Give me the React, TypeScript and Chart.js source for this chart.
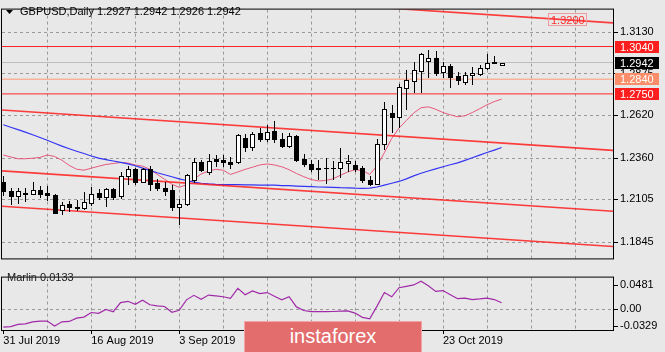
import React, { useEffect, useRef } from "react";
import { Chart, registerables } from "chart.js";

Chart.register(...registerables);

// ---------------- data ----------------
const symbolTitle = "GBPUSD,Daily";
const lastQuote = ["1.2927", "1.2942", "1.2926", "1.2942"];

const dateLabels = ["31 Jul 2019", "16 Aug 2019", "3 Sep 2019", "19 Sep 2019", "7 Oct 2019", "23 Oct 2019"];
const dateLabelBars = [0, 12, 24, 36, 48, 60];

const opens = [
  1.2211, 1.2157, 1.2124, 1.2140, 1.2138, 1.2163, 1.2146, 1.2134, 1.2042, 1.2076,
  1.2057, 1.2053, 1.2080, 1.2143, 1.2119, 1.2169, 1.2124, 1.2250, 1.2288, 1.2211,
  1.2288, 1.2207, 1.2176, 1.2163, 1.2057, 1.2076, 1.2221, 1.2331, 1.2269, 1.2350,
  1.2346, 1.2334, 1.2331, 1.2481, 1.2423, 1.2509, 1.2475, 1.2525, 1.2475, 1.2429,
  1.2495, 1.2350, 1.2321, 1.2295, 1.2299, 1.2296, 1.2298, 1.2329, 1.2313, 1.2294,
  1.2221, 1.2198, 1.2442, 1.2632, 1.2606, 1.2785, 1.2828, 1.2890, 1.2953, 1.2967,
  1.2882, 1.2921, 1.2857, 1.2824, 1.2866, 1.2870, 1.2909, 1.2944, 1.2927,
];
const highs = [
  1.2246, 1.2176, 1.2172, 1.2172, 1.2211, 1.2188, 1.2188, 1.2140, 1.2086, 1.2095,
  1.2099, 1.2149, 1.2182, 1.2169, 1.2176, 1.2172, 1.2273, 1.2308, 1.2298, 1.2298,
  1.2309, 1.2230, 1.2211, 1.2192, 1.2105, 1.2259, 1.2356, 1.2346, 1.2385, 1.2375,
  1.2375, 1.2366, 1.2504, 1.2504, 1.2516, 1.2541, 1.2558, 1.2587, 1.2510, 1.2510,
  1.2500, 1.2385, 1.2346, 1.2346, 1.2356, 1.2340, 1.2418, 1.2379, 1.2337, 1.2308,
  1.2250, 1.2475, 1.2703, 1.2684, 1.2809, 1.2895, 1.2944, 1.3002, 1.3021, 1.3011,
  1.2944, 1.2934, 1.2886, 1.2886, 1.2915, 1.2924, 1.2992, 1.2982, 1.2942,
];
const lows = [
  1.2130, 1.2076, 1.2080, 1.2095, 1.2136, 1.2119, 1.2099, 1.2018, 1.2013, 1.2034,
  1.2042, 1.2047, 1.2072, 1.2105, 1.2061, 1.2105, 1.2115, 1.2201, 1.2201, 1.2211,
  1.2159, 1.2163, 1.2134, 1.2038, 1.1951, 1.2072, 1.2211, 1.2279, 1.2259, 1.2308,
  1.2308, 1.2298, 1.2327, 1.2400, 1.2404, 1.2460, 1.2462, 1.2456, 1.2423, 1.2423,
  1.2342, 1.2308, 1.2275, 1.2230, 1.2205, 1.2230, 1.2240, 1.2279, 1.2279, 1.2211,
  1.2192, 1.2196, 1.2414, 1.2519, 1.2548, 1.2658, 1.2761, 1.2761, 1.2851, 1.2866,
  1.2851, 1.2794, 1.2809, 1.2813, 1.2813, 1.2863, 1.2905, 1.2937, 1.2926,
];
const closes = [
  1.2153, 1.2124, 1.2157, 1.2141, 1.2163, 1.2138, 1.2134, 1.2022, 1.2072, 1.2057,
  1.2049, 1.2086, 1.2138, 1.2119, 1.2169, 1.2119, 1.2250, 1.2288, 1.2211, 1.2288,
  1.2201, 1.2176, 1.2153, 1.2057, 1.2076, 1.2253, 1.2331, 1.2285, 1.2342, 1.2337,
  1.2331, 1.2323, 1.2500, 1.2427, 1.2504, 1.2471, 1.2519, 1.2471, 1.2433, 1.2495,
  1.2346, 1.2321, 1.2288, 1.2292, 1.2296, 1.2299, 1.2333, 1.2340, 1.2288, 1.2221,
  1.2201, 1.2442, 1.2658, 1.2606, 1.2790, 1.2838, 1.2895, 1.2992, 1.2967, 1.2876,
  1.2921, 1.2851, 1.2832, 1.2863, 1.2876, 1.2909, 1.2940, 1.2938, 1.2942,
];

// slow moving average (blue)
const maSlow = [
  1.2561, 1.2546, 1.2531, 1.2516, 1.2500, 1.2483, 1.2466, 1.2448, 1.2430, 1.2414,
  1.2399, 1.2385, 1.2370, 1.2357, 1.2348, 1.2339, 1.2331, 1.2322, 1.2310, 1.2296,
  1.2282, 1.2267, 1.2255, 1.2243, 1.2230, 1.2220, 1.2210, 1.2203, 1.2199, 1.2196,
  1.2195, 1.2194, 1.2194, 1.2193, 1.2193, 1.2192, 1.2192, 1.2191, 1.2189, 1.2188,
  1.2186, 1.2184, 1.2182, 1.2180, 1.2179, 1.2178, 1.2176, 1.2175, 1.2173, 1.2172,
  1.2173, 1.2180, 1.2192, 1.2203, 1.2214, 1.2230, 1.2248, 1.2264, 1.2278, 1.2291,
  1.2304, 1.2316, 1.2328, 1.2343, 1.2359, 1.2375, 1.2391, 1.2406, 1.2422,
];
// fast moving average (pink)
const maFast = [
  1.2376, 1.2364, 1.2353, 1.2353, 1.2356, 1.2361, 1.2376, 1.2367, 1.2344, 1.2312,
  1.2289, 1.2283, 1.2295, 1.2307, 1.2318, 1.2324, 1.2330, 1.2327, 1.2315, 1.2308,
  1.2289, 1.2257, 1.2228, 1.2197, 1.2178, 1.2194, 1.2228, 1.2260, 1.2278, 1.2288,
  1.2283, 1.2257, 1.2272, 1.2288, 1.2301, 1.2315, 1.2321, 1.2315, 1.2304, 1.2286,
  1.2263, 1.2243, 1.2226, 1.2217, 1.2220, 1.2230, 1.2252, 1.2272, 1.2286, 1.2281,
  1.2257, 1.2309, 1.2390, 1.2477, 1.2541, 1.2587, 1.2633, 1.2665, 1.2671, 1.2656,
  1.2636, 1.2622, 1.2610, 1.2616, 1.2636, 1.2659, 1.2683, 1.2703, 1.2718,
];

const priceTicks = [1.313, 1.2875, 1.262, 1.236, 1.2105, 1.1845];
const levelPrices = [1.304, 1.284, 1.275];
const currentPrice = 1.2942;
const targetPrice = 1.32;
// descending channel lines: price at left edge / right edge of the view
const channelLeft = [1.3431, 1.2651, 1.2279, 1.2062];
const channelRight = [1.3185, 1.2404, 1.2032, 1.1816];

const marlin = [
  -0.0345, -0.0335, -0.0292, -0.0282, -0.0243, -0.0228, -0.0226, -0.0326, -0.0243, -0.0235,
  -0.0170, -0.0150, -0.0060, -0.0077, 0.0, -0.0044, 0.0135, 0.0160, 0.0100, 0.0183,
  0.0092, 0.0070, 0.0058, -0.0055, -0.0017, 0.0189, 0.0277, 0.0199, 0.0282, 0.0265,
  0.0249, 0.0216, 0.0415, 0.0289, 0.0365, 0.0310, 0.0332, 0.0260, 0.0189, 0.0249,
  0.0050, -0.0020, -0.0044, -0.0044, -0.0044, -0.0040, -0.0033, -0.0027, -0.0071, -0.0154,
  -0.0182, 0.0066, 0.0332, 0.0249, 0.0426, 0.0454, 0.0481, 0.0554, 0.0464, 0.0355,
  0.0371, 0.0289, 0.0211, 0.0222, 0.0194, 0.0206, 0.0222, 0.0194, 0.0133,
];
const marlinTicks = [0.0481, 0, -0.0329];
const marlinTickLabels = ["0.0481", "0.00", "-0.0329"];
const marlinName = "Marlin";
const marlinLast = "0.0133";
const logoText = "instaforex";

// ---------------- view & style ----------------
const W = 665;
const H_MAIN = 268;
const H_SUB = 84;
const X_MIN = -0.18;
const X_MAX = 83.2;
const Y_MIN = 1.1743;
const Y_MAX = 1.3266;
const M_MIN = -0.0403;
const M_MAX = 0.0625;
const GRID_STEP = 6;
const TARGET_BAR = 74.3;
const BG = "#e8e8e8";
const FONT = "'Liberation Sans', Arial, sans-serif";
const GRID_COLOR = "#9a9a9a";
const CLEAR = "rgba(0,0,0,0)";
const levelStyles = [
  { line: "#ff2626", box: "#ff1e1e" },
  { line: "#ff9a74", box: "#fb8d68" },
  { line: "#ff2626", box: "#ff1e1e" },
];

const gridBars: number[] = [];
for (let b = GRID_STEP; b <= X_MAX; b += GRID_STEP) gridBars.push(b);

const seg = (a: number, b: number) => [
  { x: X_MIN, y: a },
  { x: X_MAX, y: b },
];
const series = (arr: number[]) => arr.map((v, i) => ({ x: i, y: v }));
const lineDs = (data: any[], color: string, width: number) => ({
  type: "line",
  data,
  borderColor: color,
  borderWidth: width,
  pointRadius: 0,
  tension: 0,
  fill: false,
});

function drawGrid(chart: any, yLines: number[], yTickMarks: number[], xTickMarks: number[]) {
  const { ctx, chartArea: a } = chart;
  const x = chart.scales.x;
  const y = chart.scales.y;
  ctx.save();
  ctx.strokeStyle = GRID_COLOR;
  ctx.lineWidth = 1;
  ctx.setLineDash([3, 3]);
  ctx.beginPath();
  gridBars.forEach((b) => {
    const px = Math.round(x.getPixelForValue(b)) + 0.5;
    ctx.moveTo(px, a.top);
    ctx.lineTo(px, a.bottom);
  });
  yLines.forEach((v) => {
    const py = Math.round(y.getPixelForValue(v)) + 0.5;
    ctx.moveTo(a.left, py);
    ctx.lineTo(a.right, py);
  });
  ctx.stroke();
  ctx.setLineDash([]);
  ctx.fillStyle = "#000";
  yTickMarks.forEach((v) => {
    const py = Math.round(y.getPixelForValue(v));
    ctx.fillRect(Math.round(a.right) + 1, py, 4, 1);
  });
  xTickMarks.forEach((b) => {
    const px = Math.round(x.getPixelForValue(b));
    ctx.fillRect(px, Math.round(a.bottom) + 1, 1, 3);
  });
  ctx.restore();
}

function drawFrame(chart: any) {
  const { ctx, chartArea: a } = chart;
  ctx.save();
  ctx.strokeStyle = "#000";
  ctx.lineWidth = 1;
  ctx.strokeRect(a.left - 0.5, a.top - 0.5, a.right - a.left + 1, a.bottom - a.top + 1);
  ctx.restore();
}

function drawCandles(chart: any) {
  const { ctx, chartArea: a } = chart;
  const x = chart.scales.x;
  const y = chart.scales.y;
  ctx.save();
  ctx.beginPath();
  ctx.rect(a.left, a.top, a.right - a.left, a.bottom - a.top);
  ctx.clip();
  ctx.lineWidth = 1;
  ctx.strokeStyle = "#000";
  for (let i = 0; i < opens.length; i++) {
    const px = Math.round(x.getPixelForValue(i));
    const yo = Math.round(y.getPixelForValue(opens[i]));
    const yc = Math.round(y.getPixelForValue(closes[i]));
    const yh = Math.round(y.getPixelForValue(highs[i]));
    const yl = Math.round(y.getPixelForValue(lows[i]));
    ctx.beginPath();
    ctx.moveTo(px + 0.5, yh);
    ctx.lineTo(px + 0.5, yl + 1);
    ctx.stroke();
    const top = Math.min(yo, yc);
    const bot = Math.max(yo, yc);
    if (bot - top < 1) {
      ctx.fillStyle = "#000";
      ctx.fillRect(px - 2, top, 5, 1);
    } else {
      const bull = closes[i] >= opens[i];
      ctx.fillStyle = bull ? "#ffffff" : "#000000";
      ctx.fillRect(px - 2, top, 5, bot - top + 1);
      ctx.strokeRect(px - 1.5, top + 0.5, 4, bot - top);
    }
  }
  ctx.restore();
}

function drawMainText(chart: any) {
  const { ctx, chartArea: a } = chart;
  const x = chart.scales.x;
  const y = chart.scales.y;
  ctx.save();
  ctx.font = `11px ${FONT}`;
  ctx.textBaseline = "middle";
  ctx.fillStyle = "#000";
  ctx.beginPath();
  ctx.moveTo(6, 10);
  ctx.lineTo(13, 10);
  ctx.lineTo(9.5, 14);
  ctx.closePath();
  ctx.fill();
  ctx.textAlign = "left";
  ctx.fillText(`${symbolTitle} ${lastQuote.join(" ")}`, 20, 12);

  const tx = x.getPixelForValue(TARGET_BAR);
  const ty = Math.round(y.getPixelForValue(targetPrice));
  const tw = ctx.measureText(targetPrice.toFixed(4)).width;
  ctx.strokeStyle = "#f29a9a";
  ctx.strokeRect(Math.round(tx) + 0.5, ty - 6.5, Math.round(tw) + 4, 12);
  ctx.fillStyle = "#ff3030";
  ctx.fillText(targetPrice.toFixed(4), Math.round(tx) + 3, ty + 0.5);

  const box = (p: number, bg: string) => {
    const cy = Math.round(y.getPixelForValue(p));
    ctx.fillStyle = bg;
    ctx.fillRect(a.right + 2, cy - 6, 44, 12);
    ctx.fillStyle = "#ffffff";
    ctx.fillText(p.toFixed(4), a.right + 7, cy + 0.5);
  };
  levelPrices.forEach((p, i) => box(p, levelStyles[i].box));
  box(currentPrice, "#000000");
  ctx.restore();
}

function drawSubText(chart: any) {
  const { ctx } = chart;
  ctx.save();
  ctx.font = `11px ${FONT}`;
  ctx.textBaseline = "middle";
  ctx.textAlign = "left";
  ctx.fillStyle = "#202020";
  ctx.fillText(`${marlinName} ${marlinLast}`, 7, 10);
  ctx.restore();
}

const mainPlugin = {
  id: "mainDecor",
  beforeDatasetsDraw(chart: any) {
    drawGrid(chart, priceTicks, priceTicks, []);
  },
  afterDatasetsDraw(chart: any) {
    drawCandles(chart);
  },
  afterDraw(chart: any) {
    drawFrame(chart);
    drawMainText(chart);
  },
};

const subPlugin = {
  id: "subDecor",
  beforeDatasetsDraw(chart: any) {
    drawGrid(chart, [0], marlinTicks, dateLabelBars);
  },
  afterDraw(chart: any) {
    drawFrame(chart);
    drawSubText(chart);
  },
};

export default function App() {
  const mainRef = useRef<HTMLCanvasElement>(null);
  const subRef = useRef<HTMLCanvasElement>(null);

  useEffect(() => {
    Chart.defaults.font.family = FONT;
    Chart.defaults.font.size = 11;
    Chart.defaults.color = "#000";

    const datasets: any[] = [
      lineDs(seg(currentPrice, currentPrice), "#bdbdbd", 1),
      ...levelPrices.map((p, i) => lineDs(seg(p, p), levelStyles[i].line, 1)),
      ...channelLeft.map((p, i) => lineDs(seg(p, channelRight[i]), "rgba(255,28,28,0.85)", 1.6)),
      lineDs(series(maSlow), "#3434f4", 1.2),
      lineDs(series(maFast), "#e6587c", 1),
    ];

    const axisGrid = (len: number) => ({
      drawOnChartArea: false,
      drawTicks: true,
      tickLength: len,
      tickColor: CLEAR,
      color: CLEAR,
    });

    const mainChart = new Chart(mainRef.current as HTMLCanvasElement, {
      type: "line",
      data: { datasets },
      options: {
        animation: false,
        responsive: false,
        events: [],
        layout: { padding: { left: 2, top: 2, right: 0, bottom: 2 } },
        plugins: { legend: { display: false }, tooltip: { enabled: false } },
        scales: {
          x: {
            type: "linear",
            min: X_MIN,
            max: X_MAX,
            afterFit: (s: any) => {
              s.height = 0;
            },
            ticks: { display: false },
            border: { display: false },
            grid: { display: false },
          },
          y: {
            type: "linear",
            position: "right",
            min: Y_MIN,
            max: Y_MAX,
            afterBuildTicks: (s: any) => {
              s.ticks = priceTicks.map((v) => ({ value: v }));
            },
            afterFit: (s: any) => {
              s.width = W - 613;
            },
            ticks: {
              autoSkip: false,
              padding: 3,
              color: "#000",
              callback: (v: any) => Number(v).toFixed(4),
            },
            border: { display: false },
            grid: axisGrid(4),
          },
        },
      } as any,
      plugins: [mainPlugin],
    });

    const subChart = new Chart(subRef.current as HTMLCanvasElement, {
      type: "line",
      data: { datasets: [lineDs(series(marlin), "#a12aa8", 1.2)] as any },
      options: {
        animation: false,
        responsive: false,
        events: [],
        layout: { padding: { left: 2, top: 1, right: 0, bottom: 0 } },
        plugins: { legend: { display: false }, tooltip: { enabled: false } },
        scales: {
          x: {
            type: "linear",
            min: X_MIN,
            max: X_MAX,
            afterBuildTicks: (s: any) => {
              s.ticks = dateLabelBars.map((v) => ({ value: v }));
            },
            afterFit: (s: any) => {
              s.height = 22;
            },
            ticks: {
              autoSkip: false,
              maxRotation: 0,
              minRotation: 0,
              align: "start",
              padding: 1,
              color: "#000",
              callback: (v: any) => {
                const k = dateLabelBars.indexOf(Number(v));
                return k >= 0 ? dateLabels[k] : "";
              },
            },
            border: { display: false },
            grid: axisGrid(3),
          },
          y: {
            type: "linear",
            position: "right",
            min: M_MIN,
            max: M_MAX,
            afterBuildTicks: (s: any) => {
              s.ticks = marlinTicks.map((v) => ({ value: v }));
            },
            afterFit: (s: any) => {
              s.width = W - 613;
            },
            ticks: {
              autoSkip: false,
              padding: 3,
              color: "#000",
              callback: (v: any) => {
                const k = marlinTicks.indexOf(Number(v));
                return k >= 0 ? marlinTickLabels[k] : "";
              },
            },
            border: { display: false },
            grid: axisGrid(4),
          },
        },
      } as any,
      plugins: [subPlugin],
    });

    return () => {
      mainChart.destroy();
      subChart.destroy();
    };
  }, []);

  return (
    <div
      style={{
        position: "absolute",
        left: 0,
        top: 0,
        width: W,
        height: H_MAIN + H_SUB,
        background: BG,
        overflow: "hidden",
      }}
    >
      <canvas
        ref={mainRef}
        width={W}
        height={H_MAIN}
        style={{ position: "absolute", left: 0, top: 0, width: W, height: H_MAIN }}
      />
      <canvas
        ref={subRef}
        width={W}
        height={H_SUB}
        style={{ position: "absolute", left: 0, top: H_MAIN, width: W, height: H_SUB }}
      />
      <div
        style={{
          position: "absolute",
          left: 244,
          top: 321,
          width: 178,
          height: 31,
          boxSizing: "border-box",
          background: "#e36c6c",
          borderTop: "1px solid #f3a4a4",
          borderLeft: "1px solid #f3a4a4",
          borderRight: "1px solid #f3a4a4",
          color: "#ffffff",
          fontFamily: FONT,
          fontSize: 20,
          lineHeight: "29px",
          textAlign: "center",
        }}
      >
        {logoText}
      </div>
    </div>
  );
}
